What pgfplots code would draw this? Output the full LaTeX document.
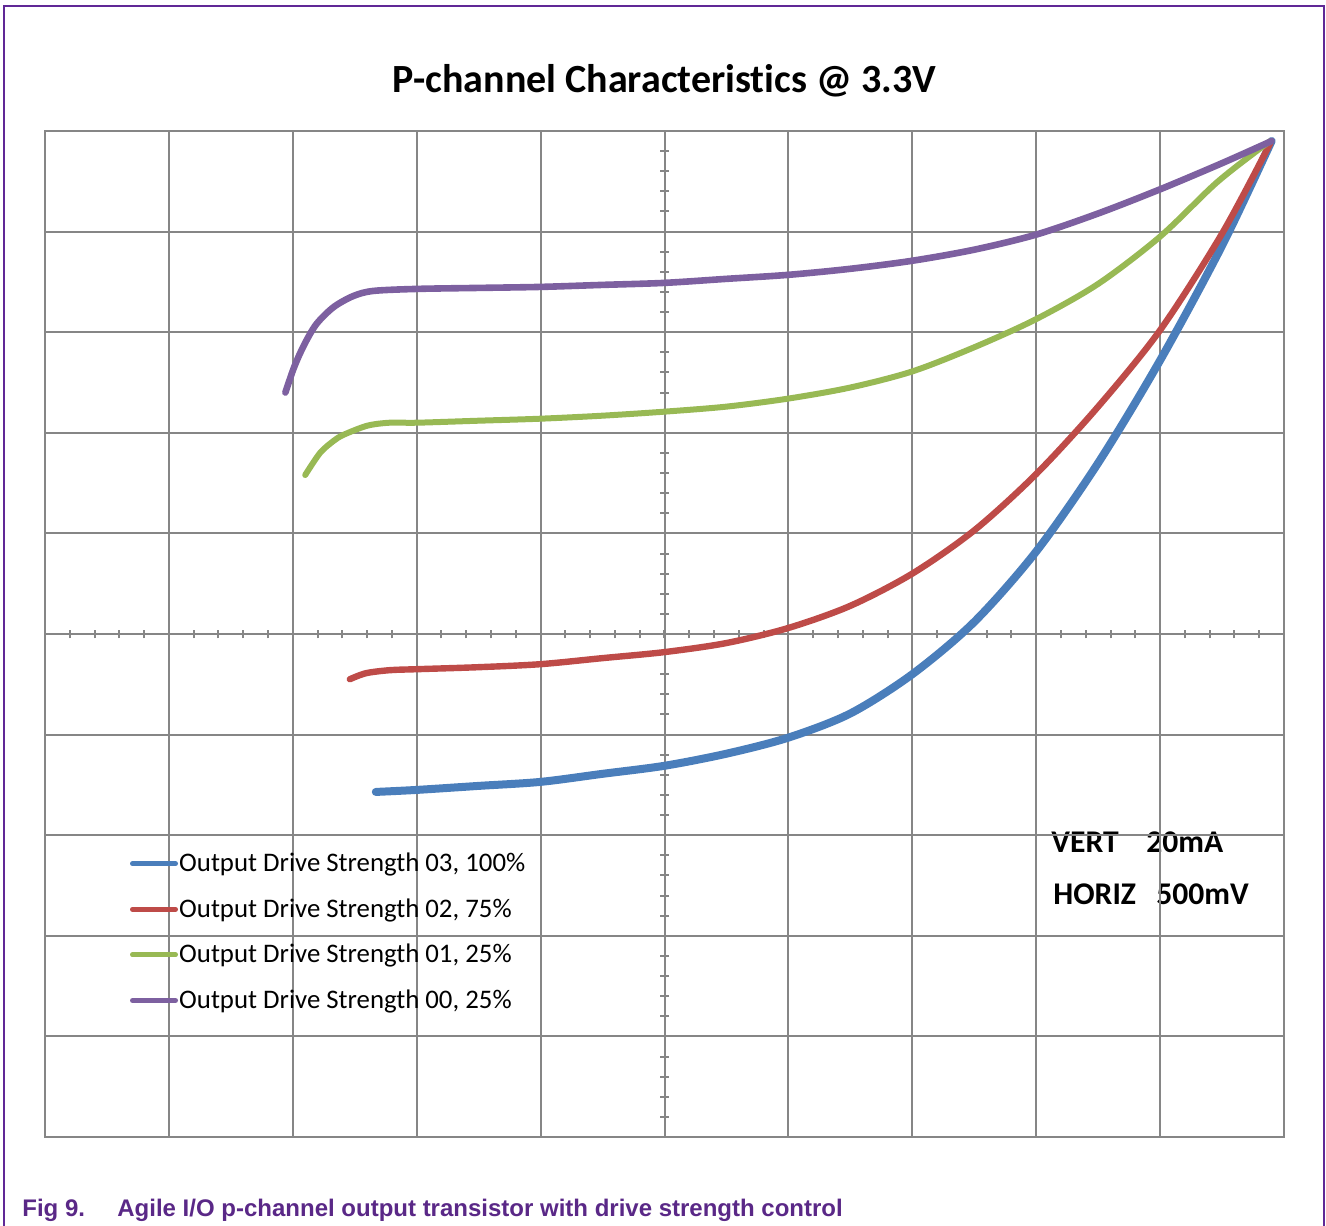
\documentclass[border=0pt]{standalone}
\usepackage{pgfplots}
\pgfplotsset{compat=1.18}
\usepackage{fontspec}
\setmainfont{Carlito}[Ligatures=NoCommon]
\newfontfamily\capfont{Liberation Sans}

\definecolor{gridgray}{RGB}{134,134,134}
\definecolor{framepurple}{RGB}{96,40,150}
\definecolor{capcolor}{RGB}{90,40,135}
\definecolor{sblue}{RGB}{74,126,187}
\definecolor{sred}{RGB}{190,75,72}
\definecolor{sgreen}{RGB}{152,185,84}
\definecolor{spurple}{RGB}{125,96,160}

% output current vs. voltage, read in screen divisions
% (horizontal 500 mV/div, vertical 20 mA/div)
\pgfplotstableread{
x y
-2.33 -1.57
-2.00 -1.55
-1.50 -1.51
-1.00 -1.47
-0.50 -1.39
 0.00 -1.31
 0.50 -1.19
 1.00 -1.03
 1.50 -0.79
 2.00 -0.40
 2.50  0.12
 3.00  0.82
 3.50  1.70
 4.00  2.72
 4.50  3.86
 4.90  4.90
}\dsthree
\pgfplotstableread{
x y
-2.54 -0.45
-2.41 -0.39
-2.22 -0.36
-2.00 -0.35
-1.50 -0.33
-1.00 -0.30
-0.50 -0.24
 0.00 -0.18
 0.50 -0.09
 1.00  0.06
 1.50  0.28
 2.00  0.60
 2.50  1.03
 3.00  1.59
 3.50  2.26
 4.00  3.02
 4.50  3.98
 4.89  4.88
}\dstwo
\pgfplotstableread{
x y
-2.90 1.58
-2.78 1.80
-2.67 1.92
-2.59 1.98
-2.40 2.07
-2.22 2.10
-2.00 2.10
-1.50 2.12
-1.00 2.14
-0.50 2.17
 0.00 2.21
 0.50 2.26
 1.00 2.34
 1.50 2.45
 2.00 2.61
 2.50 2.85
 3.00 3.13
 3.50 3.48
 4.00 3.95
 4.45 4.48
 4.80 4.82
 4.89 4.90
}\dsone
\pgfplotstableread{
x y
-3.06 2.40
-2.99 2.65
-2.91 2.87
-2.81 3.08
-2.67 3.25
-2.51 3.36
-2.35 3.41
-2.00 3.43
-1.50 3.44
-1.00 3.45
-0.50 3.47
 0.00 3.49
 0.50 3.53
 1.00 3.57
 1.50 3.63
 2.00 3.71
 2.50 3.82
 3.00 3.97
 3.50 4.18
 4.00 4.42
 4.50 4.68
 4.90 4.90
}\dszero

\begin{document}
\begin{tikzpicture}
% page layout in screen pixels (0.5pt each), origin at the plot's lower left
\begin{scope}[x=0.5pt, y=-0.5pt, shift={(-45,-1137)}]
  \useasboundingbox (0,0) rectangle (1326,1225);
  \draw[framepurple, line width=1pt] (4,1240) -- (4,6) -- (1324,6) -- (1324,1240);
  \node[anchor=base, inner sep=0pt, font=\bfseries\fontsize{20}{24}\selectfont]
    at (664.5,93) {P-channel Characteristics @ 3.3V};
  \node[anchor=base west, inner sep=0pt, font=\bfseries\fontsize{15.8}{18}\selectfont]
    at (1051,853) {VERT};
  \node[anchor=base west, inner sep=0pt, font=\bfseries\fontsize{15.8}{18}\selectfont]
    at (1146,853) {20mA};
  \node[anchor=base west, inner sep=0pt, font=\bfseries\fontsize{15.8}{18}\selectfont]
    at (1053,905) {HORIZ};
  \node[anchor=base west, inner sep=0pt, font=\bfseries\fontsize{15.8}{18}\selectfont]
    at (1156,905) {500mV};
  \node[anchor=base west, inner sep=0pt, text=capcolor,
        font=\capfont\bfseries\fontsize{12}{14}\selectfont]
    at (22,1216) {Fig 9.};
  \node[anchor=base west, inner sep=0pt, text=capcolor,
        font=\capfont\bfseries\fontsize{12}{14}\selectfont]
    at (117,1216) {Agile I/O p-channel output transistor with drive strength control};
\end{scope}

\begin{axis}[
  at={(0pt,0pt)}, anchor=south west,
  scale only axis,
  width=619.5pt, height=503pt,
  xmin=-5, xmax=5, ymin=-5, ymax=5,
  xtick={-5,-4,...,5}, ytick={-5,-4,...,5},
  xticklabels={}, yticklabels={},
  major tick length=0pt,
  grid=major,
  major grid style={gridgray, line width=1pt},
  axis line style={gridgray, line width=1pt},
  legend style={at={(rel axis cs:0.0686,0.283)}, anchor=north west,
    draw=none, fill=none, inner sep=0pt, outer sep=0pt,
    font=\fontsize{13.4}{16}\selectfont, row sep=10.2pt,
    nodes={inner sep=0pt, text height=9.6pt, text depth=3pt},
    /tikz/every odd column/.style={column sep=0.6pt}},
  legend cell align=left,
  legend image code/.code={\draw[#1, line width=2.4pt, line cap=round] (0pt,0.6pt) -- (21.6pt,0.6pt);},
  every axis plot/.append style={line cap=round, line join=round},
]
% centre cross with minor divisions
\pgfplotsinvokeforeach{-4.8,-4.6,...,4.8}{
  \draw[gridgray, line width=1pt] ([yshift=-2.2pt]axis cs:#1,0) -- ([yshift=2.2pt]axis cs:#1,0);
  \draw[gridgray, line width=1pt] ([xshift=-2.2pt]axis cs:0,#1) -- ([xshift=2.2pt]axis cs:0,#1);
}
\addplot[sblue, line width=4pt, smooth] table {\dsthree};
\addlegendentry{Output Drive Strength 03, 100\%}
\addplot[sred, line width=3.2pt, smooth] table {\dstwo};
\addlegendentry{Output Drive Strength 02, 75\%}
\addplot[sgreen, line width=3pt, smooth] table {\dsone};
\addlegendentry{Output Drive Strength 01, 25\%}
\addplot[spurple, line width=3.3pt, smooth] table {\dszero};
\addlegendentry{Output Drive Strength 00, 25\%}
\end{axis}
\end{tikzpicture}
\end{document}
